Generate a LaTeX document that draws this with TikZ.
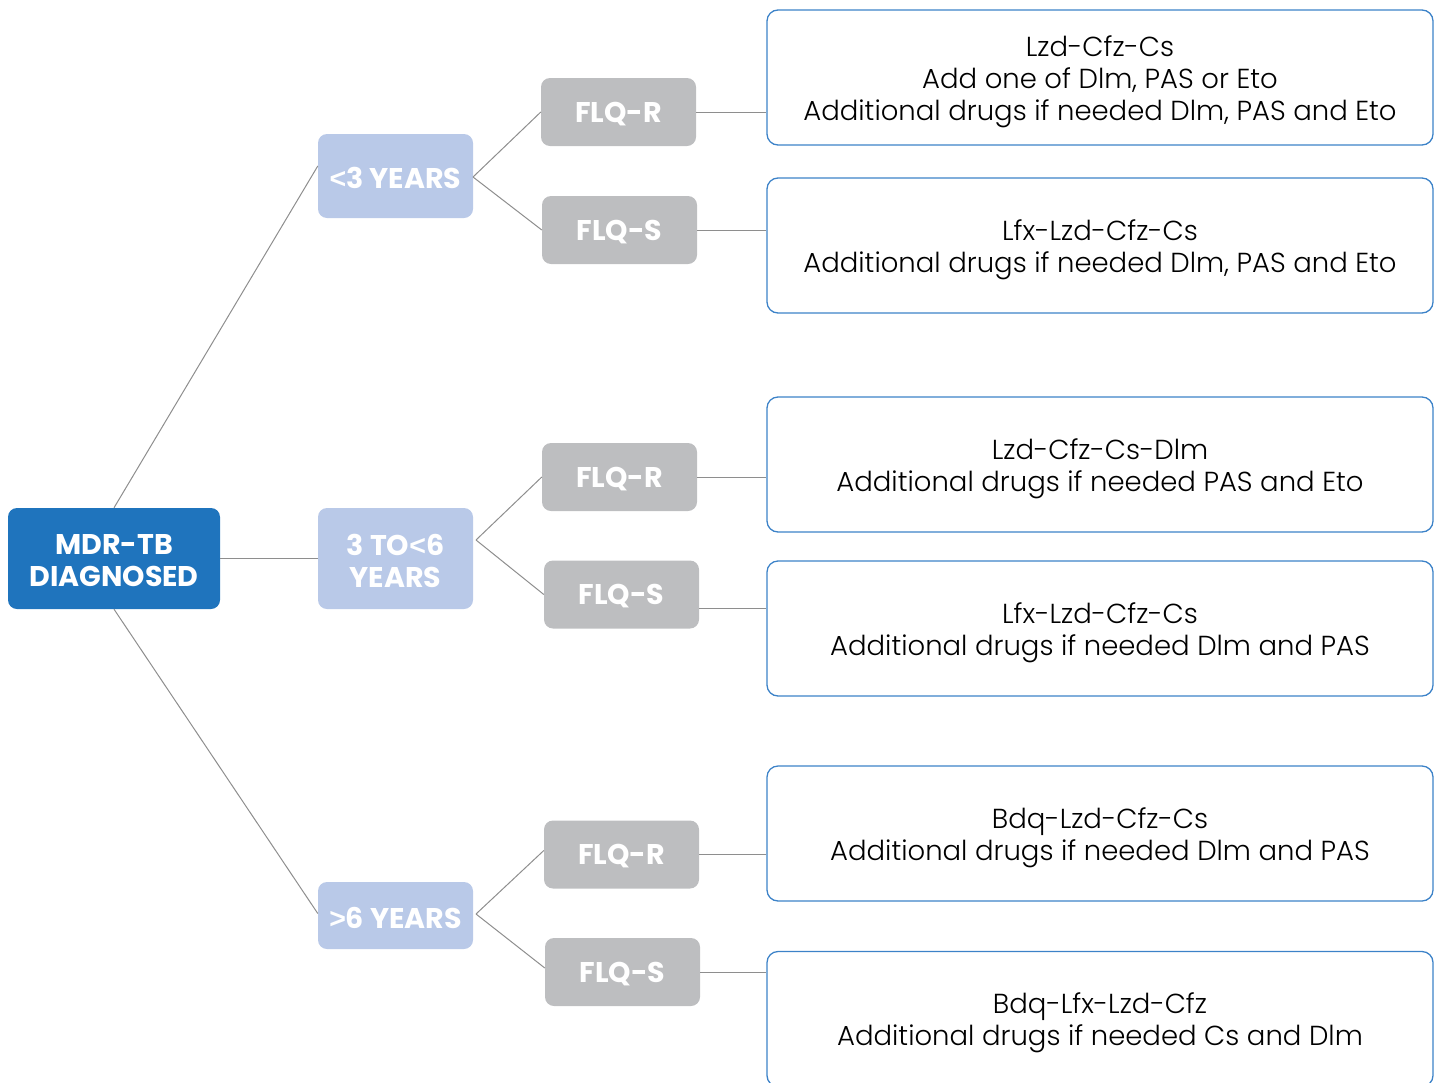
\documentclass[tikz,border=0pt]{standalone}
\usepackage{fontspec}
\setmainfont{Poppins Light}[BoldFont=Poppins Bold]
\newfontfamily\ltfont{Liberation Sans}
\newcommand{\lessthan}{{\ltfont\bfseries <}}
\newcommand{\morethan}{{\ltfont\bfseries >}}
% raise the declared height of a first line so the block sits lower
\newcommand{\dn}[2]{\raisebox{0pt}[\dimexpr\height+#1\relax]{#2}}
\definecolor{mdrblue}{HTML}{1F74BD}
\definecolor{ageblue}{HTML}{B9C9E8}
\definecolor{flqgray}{HTML}{BDBEC0}
\definecolor{boxline}{HTML}{3C82C8}
\definecolor{conn}{HTML}{8E8E8E}
\begin{document}
\begin{tikzpicture}[x=1pt,y=-1pt,
  lbl/.style={rounded corners=9pt,inner sep=0pt,text=white,align=center,
    font=\fontsize{28.5}{32}\selectfont\bfseries},
  mdrbox/.style={lbl,fill=mdrblue,minimum width=212pt,minimum height=101pt},
  agebox/.style={lbl,fill=ageblue,minimum width=155pt},
  flqbox/.style={lbl,fill=flqgray,minimum width=155pt,minimum height=68pt},
  regbox/.style={draw=boxline,line width=1.3pt,rounded corners=11pt,inner sep=0pt,
    minimum width=666pt,minimum height=135pt,align=center,text=black,
    font=\fontsize{27.5}{32}\selectfont},
  conline/.style={draw=conn,line width=1pt}]
\useasboundingbox (0,0) rectangle (1440,1082);
\begin{scope}
\clip (0,0) rectangle (1440,1082);
% main node
\node[mdrbox] (mdr) at (114,558.5) {\dn{4pt}{MDR-TB}\\DIAGNOSED};
% age nodes
\node[agebox,minimum height=84pt] (a1) at (395.5,176) {\dn{4pt}{\lessthan3 YEARS}};
\node[agebox,minimum height=101pt] (a2) at (395.5,558.5) {\dn{4pt}{3 TO\lessthan6}\\YEARS};
\node[agebox,minimum height=67pt] (a3) at (395.5,915.5) {\dn{4pt}{\morethan6 YEARS}};
% FLQ nodes
\node[flqbox] (r1) at (618.5,112) {\dn{4pt}{FLQ-R}};
\node[flqbox] (s1) at (619.5,230) {\dn{4pt}{FLQ-S}};
\node[flqbox] (r2) at (619.5,477) {\dn{4pt}{FLQ-R}};
\node[flqbox] (s2) at (621.5,594.5) {\dn{4pt}{FLQ-S}};
\node[flqbox] (r3) at (621.5,854.5) {\dn{4pt}{FLQ-R}};
\node[flqbox] (s3) at (622.5,972) {\dn{4pt}{FLQ-S}};
% regimen boxes
\node[regbox] (b1) at (1100,77.5) {\dn{8pt}{Lzd-Cfz-Cs}\\Add one of Dlm, PAS or Eto\\Additional drugs if needed Dlm, PAS and Eto};
\node[regbox] (b2) at (1100,245.5) {\dn{8pt}{Lfx-Lzd-Cfz-Cs}\\Additional drugs if needed Dlm, PAS and Eto};
\node[regbox] (b3) at (1100,464.5) {\dn{8pt}{Lzd-Cfz-Cs-Dlm}\\Additional drugs if needed PAS and Eto};
\node[regbox] (b4) at (1100,628.5) {\dn{8pt}{Lfx-Lzd-Cfz-Cs}\\Additional drugs if needed Dlm and PAS};
\node[regbox] (b5) at (1100,833.5) {\dn{8pt}{Bdq-Lzd-Cfz-Cs}\\Additional drugs if needed Dlm and PAS};
\node[regbox] (b6) at (1100,1019) {\dn{8pt}{Bdq-Lfx-Lzd-Cfz}\\Additional drugs if needed Cs and Dlm};
% branch points
\coordinate (p1) at (473,177);
\coordinate (p2) at (476,540);
\coordinate (p3) at (476,914);
% connectors
\path[conline] (mdr.north) -- ([yshift=10pt]a1.west);
\path[conline] (mdr.east) -- (a2.west);
\path[conline] (mdr.south) -- ([yshift=2pt]a3.west);
\path[conline] (p1) -- (r1.west);
\path[conline] (p1) -- (s1.west);
\path[conline] (p2) -- (r2.west);
\path[conline] (p2) -- (s2.west);
\path[conline] (p3) -- ([yshift=4pt]r3.west);
\path[conline] (p3) -- ([yshift=4pt]s3.west);
\path[conline] (r1.east) -- (r1.east -| b1.west);
\path[conline] (s1.east) -- (s1.east -| b2.west);
\path[conline] (r2.east) -- (r2.east -| b3.west);
\path[conline] ([yshift=-14pt]s2.east) -- ([yshift=-14pt]s2.east -| b4.west);
\path[conline] (r3.east) -- (r3.east -| b5.west);
\path[conline] (s3.east) -- (s3.east -| b6.west);
\end{scope}
\end{tikzpicture}
\end{document}
